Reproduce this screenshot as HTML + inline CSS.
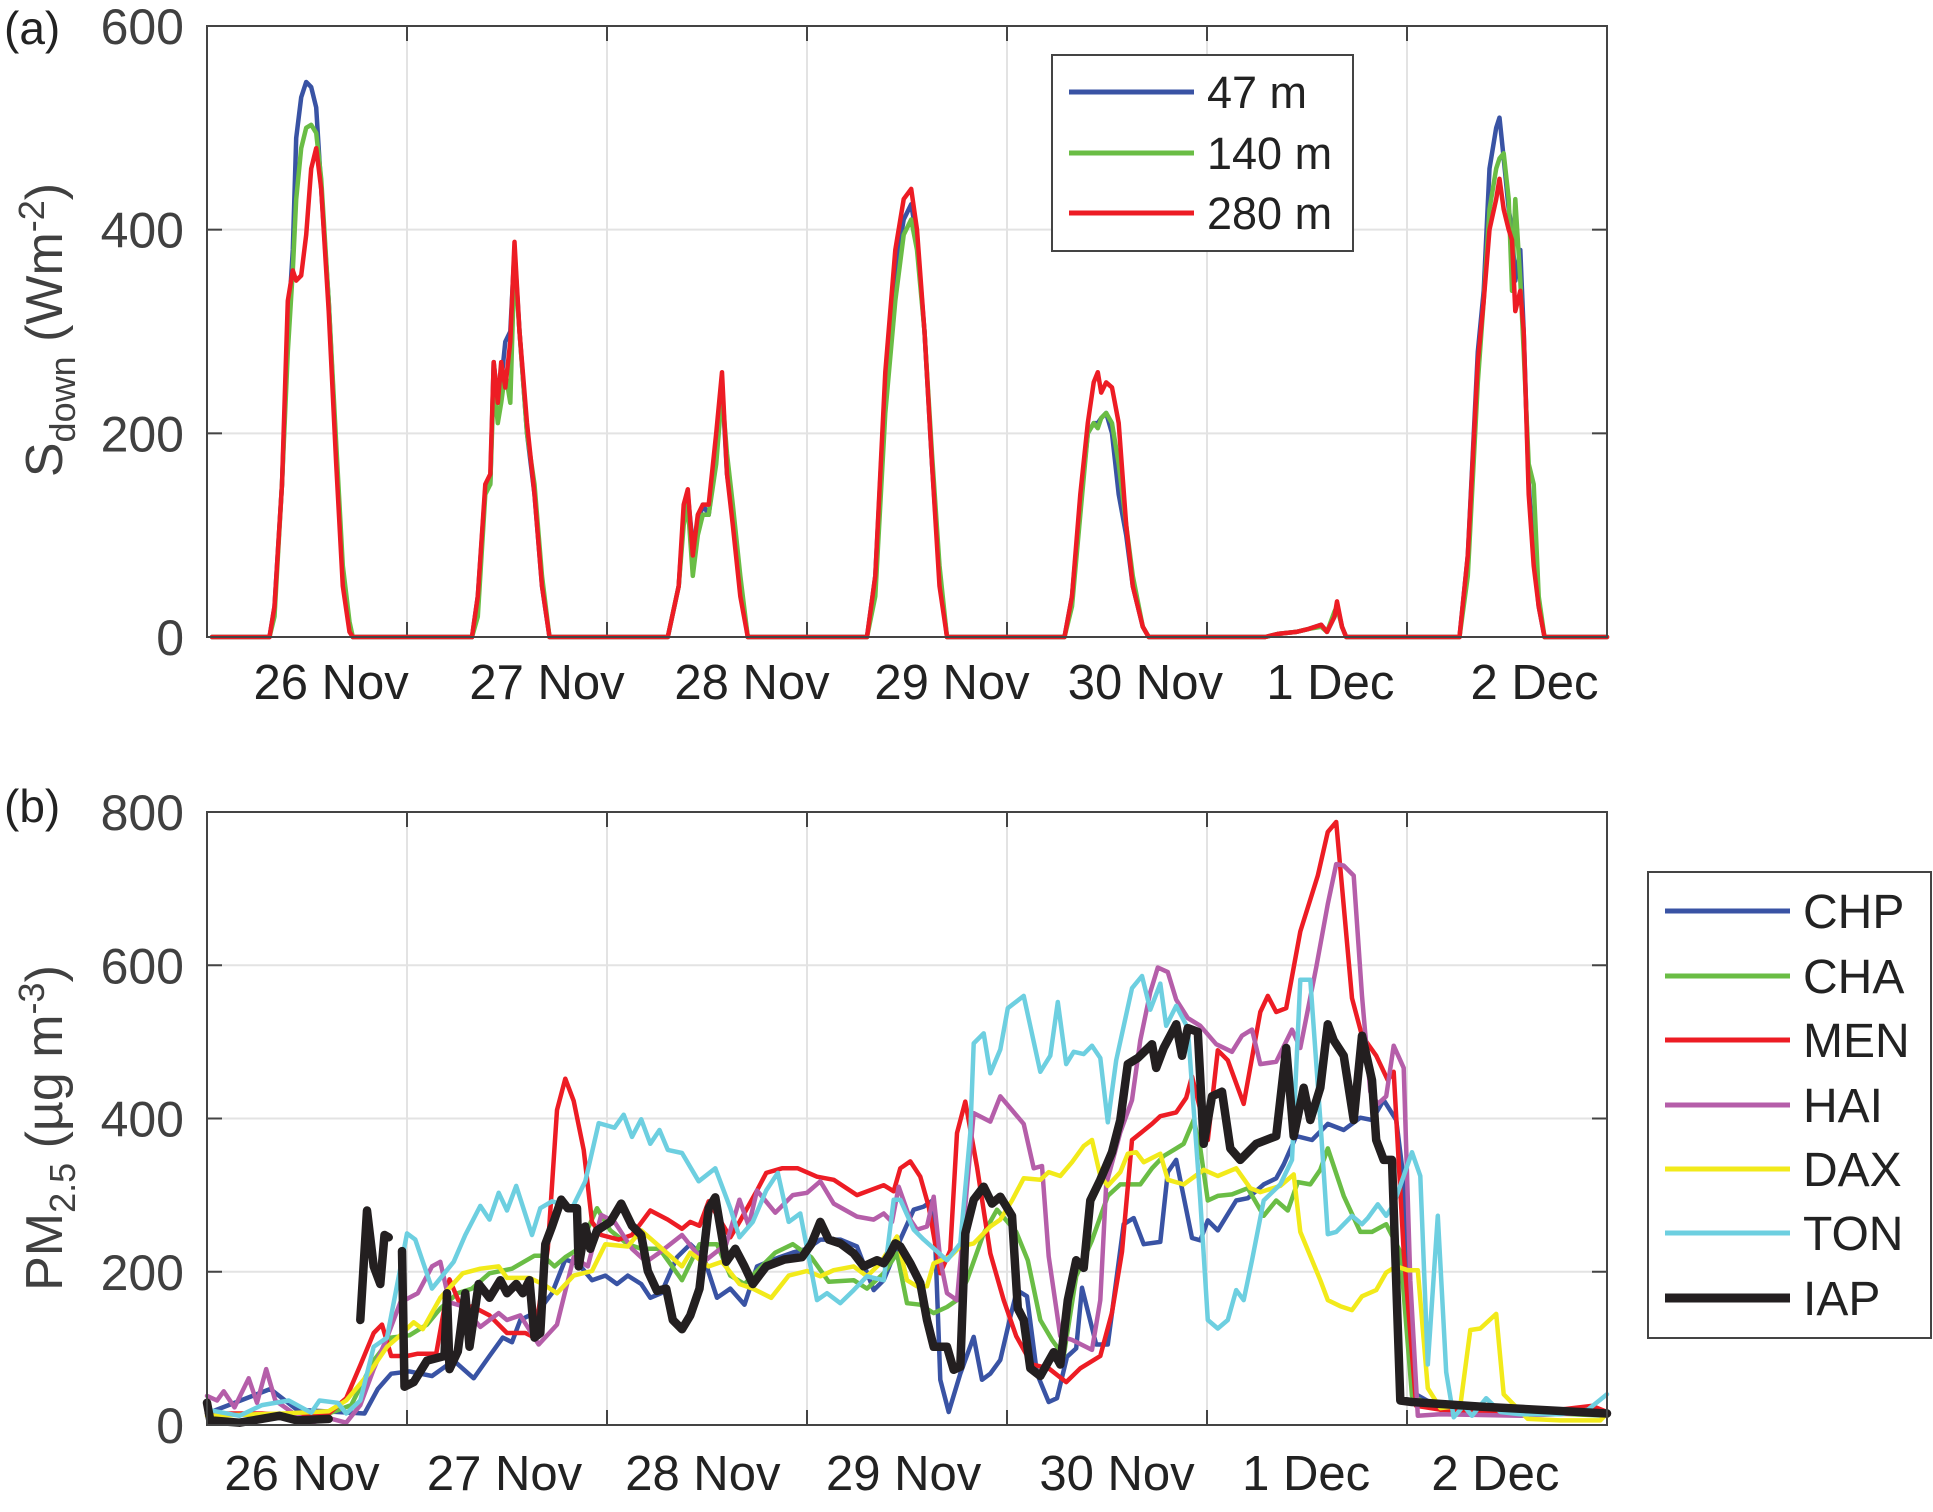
<!DOCTYPE html>
<html><head><meta charset="utf-8"><style>
html,body{margin:0;padding:0;background:#fff;}
svg{display:block;font-family:"Liberation Sans",Arial,sans-serif;}
</style></head><body>
<svg id="chart" width="1933" height="1512" viewBox="0 0 1933 1512" xmlns="http://www.w3.org/2000/svg">
<g id="pa"></g>
<g id="pb"></g>
</svg>
<script>
// ---------- Panel (a) data: hours since 26 Nov 00:00 ----------
const aHours=[0.6,7.5,8.1,9,9.7,10.3,10.7,11.3,11.9,12.5,13.1,13.7,14.6,15.5,16.3,17.1,17.5,
31.8,32.5,33.4,34,34.4,34.9,35.3,35.8,36.4,36.9,37.5,38.4,39.3,40.2,41.1,
55.3,56.6,57.2,57.7,58.3,58.9,59.5,60.2,61.1,61.8,62.4,63.1,64,64.9,
79.2,80.2,81.4,82.6,83.6,84.5,85.2,86.1,87,87.9,88.8,
102.9,103.8,104.8,105.7,106.4,106.9,107.3,107.9,108.6,109.4,110.3,111.1,112.3,113,
127,128.5,130.7,132.2,133.7,134.4,135.3,135.6,136.2,136.7,
150.3,151.3,152.5,153.2,153.9,154.7,155.1,155.6,156.2,156.6,157,157.6,158,158.6,159.2,159.8,160.5,168];
const s47=[0,0,30,150,300,380,490,530,545,540,520,440,330,180,60,10,0,
0,40,145,150,270,230,250,290,300,380,300,200,140,50,0,
0,50,120,140,90,110,130,120,180,250,160,120,50,0,
0,60,250,360,410,425,390,300,170,60,0,
0,40,130,200,210,210,215,220,200,140,100,50,10,0,
0,3,5,8,12,5,20,32,10,0,
0,80,280,340,460,500,510,470,420,400,350,380,300,150,80,30,0,0];
const s140=[0,0,20,150,280,360,430,480,500,503,495,450,330,190,70,15,0,
0,20,140,150,250,210,230,260,230,370,300,200,150,60,0,
0,50,110,130,60,100,120,120,170,240,180,130,60,0,
0,40,220,330,395,410,380,300,180,70,0,
0,30,120,200,210,205,215,220,210,170,110,60,10,0,
0,3,5,8,10,5,25,30,10,0,
0,60,250,330,420,460,470,475,430,340,430,350,280,170,150,40,0,0];
const s280=[0,0,30,150,330,360,350,355,395,460,480,440,320,170,50,5,0,
0,40,150,160,270,230,270,245,290,388,300,210,140,50,0,
0,50,130,145,80,120,130,130,200,260,160,110,40,0,
0,60,260,380,430,440,400,300,170,50,0,
0,40,140,210,250,260,240,250,245,210,110,50,10,0,
0,3,5,8,12,5,20,35,10,0,
0,80,270,330,400,430,450,420,400,390,320,340,300,140,70,30,0,0];
const aSeries=[{n:'47 m',v:s47,c:'#3953a4'},{n:'140 m',v:s140,c:'#6abd45'},{n:'280 m',v:s280,c:'#ed1c24'}];
const aYTicks=[0,200,400,600];
const aXLabels=['26 Nov','27 Nov','28 Nov','29 Nov','30 Nov','1 Dec','2 Dec'];
const aXLabelHours=[14.9,40.8,65.4,89.4,112.6,134.8,159.3];

// ---------- Panel (b) data ----------
const chpH=[0,7.6,10.8,18.9,20.5,22.1,24.3,27,29.6,32,33.9,35.5,36.6,37.6,39.8,41.4,43,44.6,46.2,47.8,49.2,50.5,52.1,53.2,54.5,56.4,58,59.6,61.2,62.8,64.5,66,68.7,70.3,72,73.6,76,78,80,81.2,83.2,84.8,86,87.2,88,89,90.4,92,93,94,95.2,96.4,97.2,98.4,99.6,101,102,103.2,104.3,105,106.7,108.1,110,111.2,112.4,114.4,115.3,116.3,118.2,119.2,120.1,121.3,123.5,124.9,126.8,128.3,129.2,130.7,132.6,134.5,136.4,138.4,139.8,141.2,142.7,143.6,144.6,148,157.6,168];
const chpV=[15,47,20,15,47,67,70,64,84,61,90,114,108,137,149,172,216,210,189,195,184,195,184,166,172,219,236,219,166,178,157,207,219,225,230,242,242,233,176,189,242,281,285,294,59,17,67,115,59,67,85,141,176,168,67,30,35,89,100,179,105,105,262,270,236,239,330,346,244,241,267,254,293,296,314,322,340,377,372,393,385,401,398,424,398,320,43,22,17,17];
const chaH=[0,9.2,14.6,17.3,20,22.1,24.3,26.4,28,30.1,31.8,33.9,36.6,39.3,40.3,41.7,43,44.6,46.8,48.4,50.5,52.1,54.3,57,59.1,61.2,62.8,64.5,66,68.2,70.3,72.5,74.6,77.6,79.2,81.2,82.8,84,85.6,87.2,88.8,90,91.2,93.2,94.8,97.1,98.5,100,101.4,102.8,104.3,106.2,108.1,109.6,112,113.4,114.8,116.3,117.2,118.4,119.2,120.1,121.3,123,124.9,126.8,128.3,129.7,130.9,132.4,133.6,134.5,136.4,138.4,139.8,141.5,143.2,144.6,148,157.6,168];
const chaV=[15,12,15,26,84,114,117,131,152,172,178,198,204,221,221,207,219,230,283,254,236,230,230,189,236,236,195,184,201,225,236,219,187,189,178,198,224,159,157,146,154,163,189,250,281,252,215,137,111,90,194,241,299,314,314,335,351,361,367,398,361,293,299,301,309,273,293,280,317,314,333,361,299,252,252,262,226,38,20,17,12];
const menH=[0,6.6,10.8,14.6,16.7,18.4,20,21,22.1,24,25.3,27.5,29.1,30.7,31.8,33.9,36,38.2,39.3,40.9,42,43,44,45.2,46.2,47.3,49.4,51,53.2,55.3,57,58,59.1,60.2,62.8,63.9,66,67.1,69,70.9,73.2,75.2,78,81.2,82.4,83.2,84.4,85.6,86.6,88,89.2,90,91,92.4,94,95.6,97.1,99,101,103.1,104.8,107.2,108.6,109.8,111,113.4,114.4,116.3,117.5,118.2,120.1,121.3,122.5,124.4,126.4,127.3,128.3,129.5,131.2,133.3,134.5,135.5,137.4,138.6,140.3,141.7,142.4,143.6,145.1,148,157.6,166.2,168];
const menV=[15,15,12,15,35,78,120,131,90,90,93,93,190,149,155,143,120,120,114,230,411,452,423,359,265,248,242,248,280,268,256,265,260,292,245,265,306,329,335,335,324,320,300,313,305,335,344,324,285,198,228,381,422,337,224,163,116,79,74,56,74,90,147,226,372,393,403,408,427,455,372,489,476,419,539,560,539,544,644,717,774,787,557,508,482,450,461,226,25,20,14,25,17];
const haiH=[0,1.2,2,3.3,5,6,7.1,8.2,10.8,12.5,14.6,16.7,18.4,20,21.6,23.2,25.3,27,28,29.1,30.7,32.8,35,36,37.6,39.8,42,44,45.7,47.3,48.9,51,52.7,54.3,57,59.6,62.3,63.9,65,66,68.2,70.3,72,73.6,75.2,78,80,81.2,82.2,83,84.4,85.2,86.4,87.2,88,88.8,90,91.2,92,94,95.2,98,99.2,100.2,101,102.4,103.8,106.2,107.2,107.9,109.6,111,112,113.2,114.1,115.3,116.3,117.7,119.2,121.1,123,124.2,125.4,126.4,128.3,130.2,131.2,133.1,134.5,135.5,136.4,137.6,138.6,139.6,140.5,141.5,142.4,143.6,144.4,145.3,148,157.6,168];
const haiV=[38,32,44,23,61,29,73,32,12,3,9,3,26,73,114,160,172,207,213,160,155,128,146,137,143,105,131,219,207,274,265,230,213,225,248,213,236,294,260,306,277,300,303,318,289,272,268,276,265,311,268,255,259,298,215,172,163,311,407,396,429,393,335,338,220,116,111,98,163,314,382,424,502,565,597,591,555,531,521,497,487,508,516,471,474,516,492,597,680,732,730,717,560,435,419,429,495,466,189,12,14,12,17];
const daxH=[0,9.2,14.6,16.7,19.4,21.6,23.2,24.8,25.9,28,30.7,32.8,35,36,38.7,40.3,42,44,46.2,47.8,50.5,52.1,54.3,57,58,60.2,61.8,63.9,65.5,67.7,69.8,72,73.6,75.2,77.6,79.2,80.8,82.8,84,85.2,86.4,87.2,89.2,90.4,92,94,95.2,96.6,98,100,101,102.4,103.8,105.2,106.2,107.2,108.1,109.6,110.5,111.5,112.4,114.4,115.3,117.2,119.6,121.3,123.5,125.2,126.4,128.8,130.4,131.2,133.6,134.5,136,137.4,138.6,140.3,141.5,142.7,144.1,145.3,146.5,148,150.4,151.6,152.8,154.7,155.6,158.5,162.4,167.2,168];
const daxV=[12,15,18,32,67,102,117,134,125,166,198,204,207,192,192,184,172,195,201,236,233,254,233,207,225,207,213,184,178,166,195,201,194,202,207,194,211,246,189,181,181,211,220,233,237,259,268,293,322,320,330,325,343,364,372,325,312,330,354,356,343,354,320,314,333,325,335,309,304,312,327,252,189,163,155,150,168,176,199,207,202,202,48,22,25,124,126,145,40,8,6,6,15];
const tonH=[0,3.9,6.6,9.8,12.5,13.5,15.7,16.7,18.4,20,21.6,24,25,27,29.6,31,32.8,33.9,35,36,37.1,39,40,41.4,43.8,45.4,47,48.9,50,51,52.1,53.2,54.3,55.3,57,59,61,62.8,63.9,65.5,67.1,68.5,69.8,71.2,73.2,74.4,76,77.6,79.2,81.2,82.4,83.2,84.8,86,88.8,90.4,91.6,92,93.2,94,95.2,96.1,98,100,101.2,102.1,103.1,104,105.2,106.2,107.2,108.1,109.1,111,112.2,113.2,114.4,115.1,116.3,117.7,119.2,120.1,121.3,122.5,123.5,124.4,125.4,126.8,128.8,130.2,131.2,132.4,133.6,134.5,135.5,137.4,138.6,139.3,140.5,141.5,142.4,144.6,145.6,146.5,147.7,148.7,149.6,150.8,151.8,153.5,155.2,157.6,162.4,165.7,168];
const tonV=[20,12,26,32,16,32,29,15,32,102,114,250,242,178,213,248,286,268,303,280,312,248,283,292,283,318,394,388,405,376,399,367,385,359,355,318,335,283,245,265,306,329,265,276,163,172,159,176,194,189,294,294,255,242,215,237,381,498,511,459,490,544,560,461,482,552,471,487,484,495,479,395,476,570,586,542,576,521,547,518,293,137,126,137,176,163,215,293,314,346,581,581,398,249,252,273,262,270,288,273,288,356,325,79,273,69,10,25,12,35,17,14,14,20,40];
const iapH=[0,0.4,3.9,8.7,10.8,14.6,null,18.4,19.2,20,20.8,21.3,21.8,null,23.4,23.7,24.8,26.4,28.5,28.8,29.1,30.1,31,31.5,32.6,33.9,35.2,36,37.1,37.9,38.7,39.3,40,40.6,41.4,42.5,43.3,44.4,44.6,45.4,46,46.8,48.4,49.7,51,52.1,52.9,54,55.1,55.9,57,58,59.1,60.2,61,62.3,63.4,64.5,65.5,67.1,69.3,71.4,72.5,73.6,74.6,76,77.6,78.8,80.4,81.2,82,82.6,83.2,84.4,85.6,86.4,87.2,88.8,89.6,90.4,91,92,93.2,94.2,95.2,96.6,97.3,98,98.8,100,101.6,102.4,103.3,104.3,105.2,106,107.2,108.6,109.6,110.5,111.7,113.4,113.9,114.8,116.3,117,117.7,118.9,119.6,120.6,121.8,122.8,124,125.9,128.3,129.5,130.4,131.6,132.4,133.6,134.5,135.2,136.4,137.6,138.6,139.8,140.3,141.2,142.2,143.2,144.6,152.8,168];
const iapV=[29,6,3,12,6,8,null,137,280,207,184,248,245,null,227,50,56,84,90,172,73,96,172,102,184,166,189,172,184,172,189,114,120,236,259,294,283,283,207,259,230,254,265,289,260,248,201,175,178,137,125,143,178,283,297,213,230,207,184,207,216,219,236,265,242,237,224,207,215,211,224,237,233,211,185,137,102,102,72,76,250,294,311,289,298,273,152,137,74,64,95,79,163,215,205,293,320,356,398,471,479,497,466,492,523,482,518,513,367,429,435,361,346,367,377,492,377,440,398,440,523,502,482,398,508,450,372,346,346,32,30,24,15];
const bSeries=[
 {n:'CHP',h:chpH,v:chpV,c:'#3953a4',w:4.5},
 {n:'CHA',h:chaH,v:chaV,c:'#6abd45',w:4.5},
 {n:'MEN',h:menH,v:menV,c:'#ed1c24',w:4.5},
 {n:'HAI',h:haiH,v:haiV,c:'#b55ea9',w:4.5},
 {n:'DAX',h:daxH,v:daxV,c:'#f2ea1a',w:4.5},
 {n:'TON',h:tonH,v:tonV,c:'#6dcfe0',w:4.5},
 {n:'IAP',h:iapH,v:iapV,c:'#231f20',w:8.5}];
const bYTicks=[0,200,400,600,800];
const bXLabels=['26 Nov','27 Nov','28 Nov','29 Nov','30 Nov','1 Dec','2 Dec'];
const bXLabelHours=[11.4,35.7,59.5,83.6,109.2,131.9,154.6];

// ---------- rendering ----------
const NS='http://www.w3.org/2000/svg';
const X0=207,X1=1607,HMAX=168;
const xs=h=>X0+(X1-X0)*h/HMAX;
function mk(parent,tag,attrs){const e=document.createElementNS(NS,tag);for(const k in attrs)e.setAttribute(k,attrs[k]);parent.appendChild(e);return e;}
function axes(g,top,bot,ymax,yticks,labels,labelHours,labY,name){
  const ys=v=>bot-(bot-top)*v/ymax;
  const grid=mk(g,'g',{});
  
  
  for(let d=1;d<7;d++){mk(grid,'line',{x1:xs(d*24),x2:xs(d*24),y1:top,y2:bot,stroke:'#e3e3e3','stroke-width':2});}
  yticks.forEach(t=>{if(t>0&&t<ymax)mk(grid,'line',{x1:X0,x2:X1,y1:ys(t),y2:ys(t),stroke:'#e3e3e3','stroke-width':2});});
  yticks.forEach(t=>{
    const y=ys(t);
    mk(g,'line',{x1:X0,x2:X0+15,y1:y,y2:y,stroke:'#444','stroke-width':2});
    mk(g,'line',{x1:X1,x2:X1-15,y1:y,y2:y,stroke:'#444','stroke-width':2});
    const tx=mk(g,'text',{x:184,y:y+18,'text-anchor':'end','font-size':50,fill:'#404040'});
    tx.textContent=t;
    
    
  });
  for(let d=1;d<7;d++){const x=xs(d*24);
    mk(g,'line',{x1:x,x2:x,y1:bot,y2:bot-15,stroke:'#444','stroke-width':2});
    mk(g,'line',{x1:x,x2:x,y1:top,y2:top+15,stroke:'#444','stroke-width':2});}
  labels.forEach((l,i)=>{
    const tx=mk(g,'text',{x:xs(labelHours[i]),y:labY,'text-anchor':'middle','font-size':49,fill:'#222'});
    tx.textContent=l;
    
    
  });
  return ys;
}
function path(g,h,v,ys,c,w,name){
  let d='',pen=false;
  for(let i=0;i<h.length;i++){
    if(h[i]===null||v[i]===null){pen=false;continue;}
    d+=(pen?'L':'M')+xs(h[i]).toFixed(1)+' '+ys(v[i]).toFixed(1);pen=true;}
  const p=mk(g,'path',{d:d,fill:'none',stroke:c,'stroke-width':w,'stroke-linejoin':'round','stroke-linecap':'round'});
  
  
}
// Panel a
const pa=document.getElementById('pa');
const aTop=26,aBot=637;
mk(pa,'rect',{x:X0,y:aTop,width:X1-X0,height:aBot-aTop,fill:'#fff'});
const ysA=axes(pa,aTop,aBot,600,aYTicks,aXLabels,aXLabelHours,699,'panel-a');
aSeries.forEach(s=>path(pa,aHours,s.v,ysA,s.c,4.5,'line-'+s.n.replace(' ','')));
mk(pa,'rect',{x:X0,y:aTop,width:X1-X0,height:aBot-aTop,fill:'none',stroke:'#444','stroke-width':2});
// Panel b
const pb=document.getElementById('pb');
const bTop=812,bBot=1425;
const ysB=axes(pb,bTop,bBot,800,bYTicks,bXLabels,bXLabelHours,1490,'panel-b');
bSeries.forEach(s=>path(pb,s.h,s.v,ysB,s.c,s.w,'line-'+s.n.toLowerCase()));
mk(pb,'rect',{x:X0,y:bTop,width:X1-X0,height:bBot-bTop,fill:'none',stroke:'#444','stroke-width':2});
</script>
<script>
(function(){
const svg=document.getElementById('chart');
const NS='http://www.w3.org/2000/svg';
function t(x,y,s,txt,name,extra){const e=document.createElementNS(NS,'text');e.setAttribute('x',x);e.setAttribute('y',y);e.setAttribute('font-size',s);e.setAttribute('fill',extra||'#222');e.textContent=txt;svg.appendChild(e);return e;}
t(4,44,46,'(a)','panel-a-label');
t(4,822,46,'(b)','panel-b-label');
const ya=document.createElementNS(NS,'text');
ya.setAttribute('transform','translate(62,330) rotate(-90)');ya.setAttribute('text-anchor','middle');ya.setAttribute('font-size',52);ya.setAttribute('fill','#404040');
ya.innerHTML='S<tspan font-size="36" dy="13">down</tspan><tspan dy="-13"> (Wm</tspan><tspan font-size="36" dy="-18">-2</tspan><tspan dy="18">)</tspan>';


svg.appendChild(ya);
const yb=document.createElementNS(NS,'text');
yb.setAttribute('transform','translate(62,1128) rotate(-90)');yb.setAttribute('text-anchor','middle');yb.setAttribute('font-size',52);yb.setAttribute('fill','#404040');
yb.innerHTML='PM<tspan font-size="36" dy="13">2.5</tspan><tspan dy="-13"> (µg m</tspan><tspan font-size="36" dy="-18">-3</tspan><tspan dy="18">)</tspan>';


svg.appendChild(yb);
const la=document.createElementNS(NS,'g');


svg.appendChild(la);
la.innerHTML='<rect x="1052" y="55" width="301" height="196" fill="#fff" stroke="#444" stroke-width="2"/>';
[['47 m','#3953a4',92],['140 m','#6abd45',153],['280 m','#ed1c24',213]].forEach(r=>{
 const l=document.createElementNS(NS,'line');l.setAttribute('x1',1069);l.setAttribute('x2',1194);l.setAttribute('y1',r[2]);l.setAttribute('y2',r[2]);l.setAttribute('stroke',r[1]);l.setAttribute('stroke-width',5);
 
 
 la.appendChild(l);
 const tx=document.createElementNS(NS,'text');tx.setAttribute('x',1207);tx.setAttribute('y',r[2]+16);tx.setAttribute('font-size',45);tx.setAttribute('fill','#222');tx.textContent=r[0];
 
 
 la.appendChild(tx);});
const lb=document.createElementNS(NS,'g');


svg.appendChild(lb);
lb.innerHTML='<rect x="1648" y="872" width="283" height="466" fill="#fff" stroke="#444" stroke-width="2"/>';
[['CHP','#3953a4',911,5],['CHA','#6abd45',976,5],['MEN','#ed1c24',1040,5],['HAI','#b55ea9',1105,5],['DAX','#f2ea1a',1169,5],['TON','#6dcfe0',1233,5],['IAP','#231f20',1298,9]].forEach(r=>{
 const l=document.createElementNS(NS,'line');l.setAttribute('x1',1665);l.setAttribute('x2',1790);l.setAttribute('y1',r[2]);l.setAttribute('y2',r[2]);l.setAttribute('stroke',r[1]);l.setAttribute('stroke-width',r[3]);
 
 
 lb.appendChild(l);
 const tx=document.createElementNS(NS,'text');tx.setAttribute('x',1803);tx.setAttribute('y',r[2]+17);tx.setAttribute('font-size',48);tx.setAttribute('fill','#222');tx.textContent=r[0];
 
 
 lb.appendChild(tx);});
})();
</script>
</body></html>
